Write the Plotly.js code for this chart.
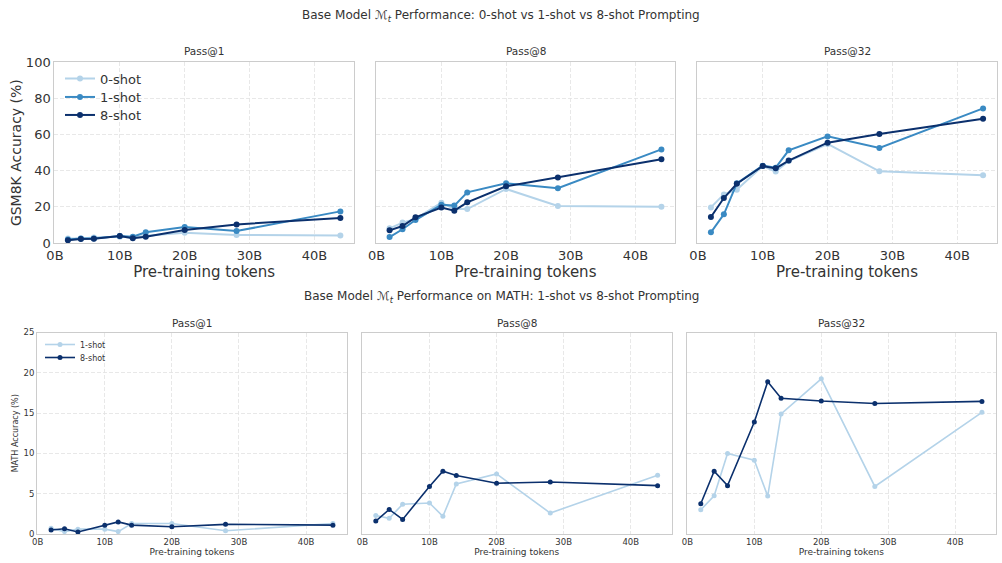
<!DOCTYPE html>
<html><head><meta charset="utf-8">
<script src="https://cdn.plot.ly/plotly-3.0.1.min.js"></script>
<style>html,body{margin:0;padding:0;background:#fff}#chart{width:1002px;height:563px}</style>
</head><body><div id="chart"></div>
<script>
// Data
const tokens = [2, 4, 6, 10, 12, 14, 20, 28, 44];
const tickVals = [0, 10, 20, 30, 40];
const tickText = ["0B", "10B", "20B", "30B", "40B"];
const passLabels = ["Pass@1", "Pass@8", "Pass@32"];

const gsm_p1_0shot = [2.5, 2.5, 3.0, 3.5, 3.0, 4.0, 5.7, 4.4, 4.2];
const gsm_p1_1shot = [2.0, 2.5, 2.5, 3.9, 3.5, 5.9, 8.9, 6.6, 17.5];
const gsm_p1_8shot = [1.5, 2.2, 2.3, 3.9, 2.6, 3.5, 7.2, 10.3, 13.8];

const gsm_p8_0shot = [8.1, 11.3, 13.3, 22.3, 18.8, 18.8, 29.9, 20.5, 20.1];
const gsm_p8_1shot = [3.3, 7.6, 12.7, 21.2, 20.7, 28.0, 33.0, 30.3, 51.8];
const gsm_p8_8shot = [7.0, 9.4, 14.2, 19.6, 17.9, 22.5, 31.4, 36.3, 46.3];

const gsm_p32_0shot = [19.7, 26.9, 29.5, 42.6, 39.5, 45.4, 54.8, 39.7, 37.5];
const gsm_p32_1shot = [5.9, 15.9, 33.0, 42.8, 41.7, 51.3, 59.0, 52.6, 74.5];
const gsm_p32_8shot = [14.4, 24.9, 32.8, 42.6, 41.3, 45.6, 55.5, 60.3, 68.8];

const math_p1_1shot = [0.7, 0.3, 0.6, 0.6, 0.3, 1.3, 1.3, 0.4, 1.3];
const math_p1_8shot = [0.5, 0.65, 0.25, 1.1, 1.5, 1.1, 0.9, 1.2, 1.1];

const math_p8_1shot = [2.3, 1.95, 3.7, 3.85, 2.2, 6.2, 7.45, 2.6, 7.3];
const math_p8_8shot = [1.6, 3.05, 1.8, 5.9, 7.8, 7.25, 6.3, 6.45, 6.0];

const math_p32_1shot = [3.0, 4.75, 10.0, 9.15, 4.7, 14.9, 19.25, 5.9, 15.1];
const math_p32_8shot = [3.75, 7.8, 6.0, 13.9, 18.9, 16.85, 16.5, 16.2, 16.45];

const C_LIGHT = "#b4d3e9", C_MID = "#3a8ac3", C_DARK = "#0b306d";
const FONT = "DejaVu Sans";
const W = 1002, H = 563;

const traces = [];
function add(ax, y, name, color, top, legendId) {
  traces.push({
    x: tokens, y: y, name: name, type: "scatter", mode: "lines+markers",
    xaxis: "x" + (ax === 1 ? "" : ax), yaxis: "y" + (ax === 1 ? "" : ax),
    line: {color: color, width: top ? 2 : 1.6},
    marker: {color: color, size: top ? 6 : 5},
    showlegend: !!legendId, legend: legendId || "legend"
  });
}
add(1, gsm_p1_0shot, "0-shot", C_LIGHT, true, "legend");
add(1, gsm_p1_1shot, "1-shot", C_MID, true, "legend2");
add(1, gsm_p1_8shot, "8-shot", C_DARK, true, "legend3");
add(2, gsm_p8_0shot, "0-shot", C_LIGHT, true);
add(2, gsm_p8_1shot, "1-shot", C_MID, true);
add(2, gsm_p8_8shot, "8-shot", C_DARK, true);
add(3, gsm_p32_0shot, "0-shot", C_LIGHT, true);
add(3, gsm_p32_1shot, "1-shot", C_MID, true);
add(3, gsm_p32_8shot, "8-shot", C_DARK, true);
add(4, math_p1_1shot, "1-shot", C_LIGHT, false, "legend4");
add(4, math_p1_8shot, "8-shot", C_DARK, false, "legend5");
add(5, math_p8_1shot, "1-shot", C_LIGHT, false);
add(5, math_p8_8shot, "8-shot", C_DARK, false);
add(6, math_p32_1shot, "1-shot", C_LIGHT, false);
add(6, math_p32_8shot, "8-shot", C_DARK, false);

const px = v => v / W, py = v => 1 - v / H;
const topX = [[54.3, 354], [376, 675], [697.3, 996.7]];
const botX = [[37, 347], [361.7, 671.7], [686.7, 996]];
const topY = [py(243), py(62.3)];
const botY = [py(534), py(332.5)];

function leg(x, yTop, size) {
  return {x: px(x), y: py(yTop), xanchor: "left", yanchor: "top", bgcolor: "rgba(255,255,255,0)",
          font: {size: size, family: FONT, color: "#333"}, tracegroupgap: 0, itemwidth: 30};
}

const layout = {
  width: W, height: H, margin: {l: 0, r: 0, t: 0, b: 0},
  paper_bgcolor: "#fff", plot_bgcolor: "#fff",
  font: {family: FONT, color: "#333"},
  annotations: [],
  legend: leg(60, 63.5, 13),
  legend2: leg(60, 82, 13),
  legend3: leg(60, 100, 13),
  legend4: leg(40, 330, 8),
  legend5: leg(40, 343, 8)
};

function axes(i, xd, yd, top) {
  const s = i === 1 ? "" : String(i);
  const fs = top ? 13 : 8.5;
  layout["xaxis" + s] = {
    domain: [px(xd[0]), px(xd[1])], anchor: "y" + s, range: [-0.1, 46.1],
    tickvals: tickVals, ticktext: tickText, tickfont: {size: fs, color: "#333"},
    showline: true, mirror: true, linecolor: "#cccccc", linewidth: 1,
    showgrid: true, gridcolor: "#e2e2e2", griddash: "4px,2px", gridwidth: 0.8,
    zeroline: false, ticks: "", ticklen: 0,
    title: {text: "Pre-training tokens", font: {size: top ? 15 : 9, color: "#333"}, standoff: top ? 1 : 2}
  };
  const first = (i === 1 || i === 4);
  layout["yaxis" + s] = {
    domain: yd, anchor: "x" + s, range: top ? [0, 100] : [0, 25],
    tickvals: top ? [0, 20, 40, 60, 80, 100] : [0, 5, 10, 15, 20, 25],
    showticklabels: first, tickfont: {size: fs, color: "#333"},
    showline: true, mirror: true, linecolor: "#cccccc", linewidth: 1,
    showgrid: true, gridcolor: "#e2e2e2", griddash: "4px,2px", gridwidth: 0.8,
    zeroline: false, ticks: "",
    title: first ? {text: top ? "GSM8K Accuracy (%)" : "MATH Accuracy (%)", font: {size: top ? 14 : 8, color: "#333"}, standoff: top ? 0 : 3} : {text: ""}
  };
  layout.annotations.push({
    text: passLabels[(i - 1) % 3], xref: "paper", yref: "paper",
    x: (px(xd[0]) + px(xd[1])) / 2, y: yd[1], yshift: top ? 3 : 2, xanchor: "center", yanchor: "bottom",
    showarrow: false, font: {size: 10.5, color: "#333", family: FONT}
  });
}
for (let k = 0; k < 3; k++) axes(k + 1, topX[k], topY, true);
for (let k = 0; k < 3; k++) axes(k + 4, botX[k], botY, false);

layout.annotations.push({
  text: "Base Model ℳ<sub><i>t</i></sub> Performance: 0-shot vs 1-shot vs 8-shot Prompting",
  xref: "paper", yref: "paper", x: 0.5, y: py(15.5), xanchor: "center", yanchor: "middle",
  showarrow: false, font: {size: 12, color: "#333", family: FONT}
});
layout.annotations.push({
  text: "Base Model ℳ<sub><i>t</i></sub> Performance on MATH: 1-shot vs 8-shot Prompting",
  xref: "paper", yref: "paper", x: 0.5, y: py(296.5), xanchor: "center", yanchor: "middle",
  showarrow: false, font: {size: 12, color: "#333", family: FONT}
});

Plotly.newPlot("chart", traces, layout, {displayModeBar: false, staticPlot: true});
</script></body></html>
